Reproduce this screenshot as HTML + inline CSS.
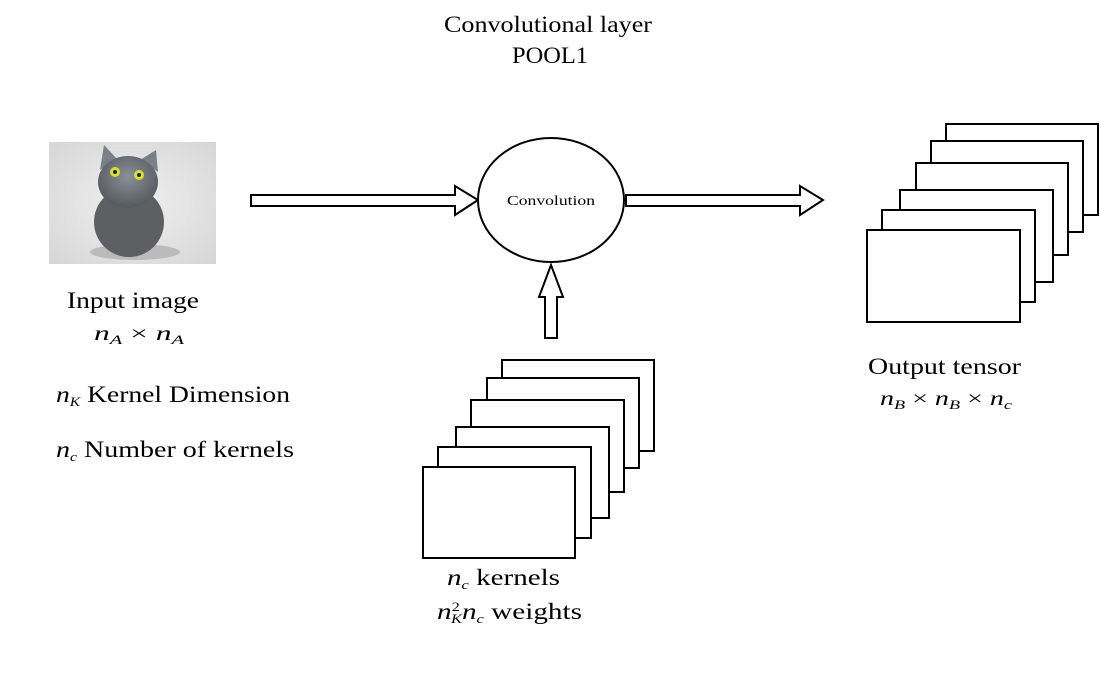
<!DOCTYPE html>
<html><head><style>
body{margin:0;background:#fff;}
svg text{font-family:"Liberation Serif",serif;fill:#000;}
</style></head><body>
<svg width="1100" height="679" viewBox="0 0 1100 679" xmlns="http://www.w3.org/2000/svg">
<defs>
<radialGradient id="bg" cx="0.5" cy="0.5" r="0.7"><stop offset="0" stop-color="#f0f0f0"/><stop offset="1" stop-color="#d6d6d6"/></radialGradient>
<radialGradient id="cat" cx="0.5" cy="0.4" r="0.6"><stop offset="0" stop-color="#8a9096"/><stop offset="1" stop-color="#55595e"/></radialGradient>
</defs>
<text x="444" y="32" font-size="23" textLength="208" lengthAdjust="spacingAndGlyphs">Convolutional layer</text>
<text x="512" y="63" font-size="23" textLength="76" lengthAdjust="spacingAndGlyphs">POOL1</text>
<!-- cat -->
<rect x="49" y="142" width="167" height="122" fill="url(#bg)"/>
<ellipse cx="135" cy="252" rx="45" ry="8" fill="#bbb"/>
<ellipse cx="129" cy="222" rx="35" ry="35" fill="#5e5f62"/>
<polygon points="100,170 104,145 118,160" fill="#7a8087"/>
<polygon points="140,160 156,150 158,172" fill="#7a8087"/>
<ellipse cx="128" cy="182" rx="30" ry="26" fill="url(#cat)"/>
<circle cx="115" cy="172" r="5" fill="#d8e030"/><circle cx="139" cy="175" r="5" fill="#d8e030"/>
<circle cx="115" cy="172" r="2" fill="#222"/><circle cx="139" cy="175" r="2" fill="#222"/>
<!-- arrows -->
<g fill="#fff" stroke="#000" stroke-width="2">
<polygon points="251,195 455,195 455,186 478,200 455,215 455,206 251,206"/>
<polygon points="626,195 800,195 800,186 823,200 800,215 800,206 626,206"/>
<polygon points="545,338 545,297 539,297 551,265 563,297 557,297 557,338"/>
<ellipse cx="551" cy="200" rx="73" ry="62"/>
</g>
<text x="507" y="205" font-size="14" textLength="88" lengthAdjust="spacingAndGlyphs">Convolution</text>
<!-- output tensor -->
<g fill="#fff" stroke="#000" stroke-width="2">
<rect x="946" y="124" width="152" height="91"/>
<rect x="931" y="141" width="152" height="91"/>
<rect x="916" y="163" width="152" height="92"/>
<rect x="900" y="190" width="153" height="92"/>
<rect x="882" y="210" width="153" height="92"/>
<rect x="867" y="230" width="153" height="92"/>
</g>
<!-- kernels -->
<g fill="#fff" stroke="#000" stroke-width="2">
<rect x="502" y="360" width="152" height="91"/>
<rect x="487" y="378" width="152" height="90"/>
<rect x="471" y="400" width="153" height="92"/>
<rect x="456" y="427" width="153" height="91"/>
<rect x="438" y="447" width="153" height="91"/>
<rect x="423" y="467" width="152" height="91"/>
</g>
<g font-size="23">
<text x="67" y="308" textLength="132" lengthAdjust="spacingAndGlyphs">Input image</text>
<text x="94" y="340" font-size="20" textLength="90" lengthAdjust="spacingAndGlyphs"><tspan font-style="italic">n</tspan><tspan font-style="italic" font-size="13" dy="4">A</tspan><tspan dy="-4"> × </tspan><tspan font-style="italic">n</tspan><tspan font-style="italic" font-size="13" dy="4">A</tspan></text>
<text x="56" y="402" textLength="234" lengthAdjust="spacingAndGlyphs"><tspan font-style="italic">n</tspan><tspan font-style="italic" font-size="13" dy="4">K</tspan><tspan dy="-4">  Kernel Dimension</tspan></text>
<text x="56" y="457" textLength="238" lengthAdjust="spacingAndGlyphs"><tspan font-style="italic">n</tspan><tspan font-style="italic" font-size="13" dy="4">c</tspan><tspan dy="-4">  Number of kernels</tspan></text>
<text x="868" y="374" textLength="153" lengthAdjust="spacingAndGlyphs">Output tensor</text>
<text x="880" y="405" font-size="20" textLength="132" lengthAdjust="spacingAndGlyphs"><tspan font-style="italic">n</tspan><tspan font-style="italic" font-size="13" dy="4">B</tspan><tspan dy="-4"> × </tspan><tspan font-style="italic">n</tspan><tspan font-style="italic" font-size="13" dy="4">B</tspan><tspan dy="-4"> × </tspan><tspan font-style="italic">n</tspan><tspan font-style="italic" font-size="13" dy="4">c</tspan></text>
<text x="447" y="585" textLength="113" lengthAdjust="spacingAndGlyphs"><tspan font-style="italic">n</tspan><tspan font-style="italic" font-size="13" dy="4">c</tspan><tspan dy="-4"> kernels</tspan></text>
<text x="437" y="619" textLength="145" lengthAdjust="spacingAndGlyphs"><tspan font-style="italic">n</tspan><tspan font-size="13" dy="-8">2</tspan><tspan font-style="italic" font-size="13" dx="-7" dy="12">K</tspan><tspan font-style="italic" dy="-4">n</tspan><tspan font-style="italic" font-size="13" dy="4">c</tspan><tspan dy="-4"> weights</tspan></text>
</g>
</svg>
</body></html>
